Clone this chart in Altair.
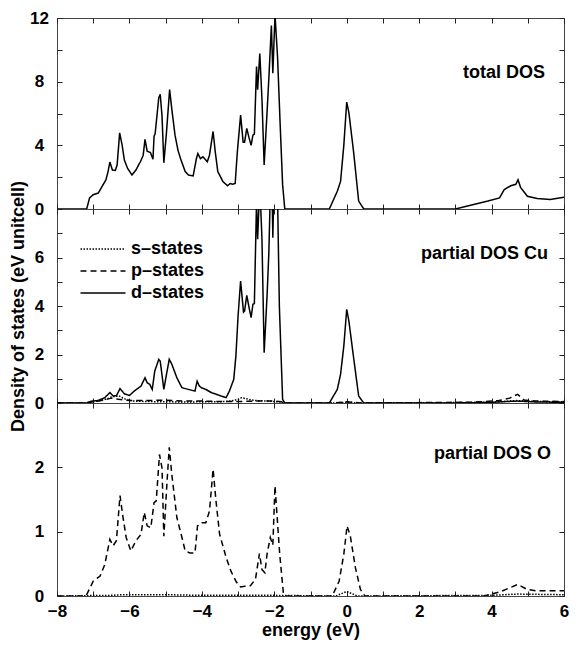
import altair as alt
import pandas as pd

FONT = "Liberation Sans"

# ---------------- data ----------------
tot_E = [-8.0, -7.18, -7.10, -7.0, -6.86, -6.77, -6.65, -6.59, -6.54, -6.47, -6.39, -6.34,
         -6.27, -6.20, -6.14, -6.05, -5.93, -5.82, -5.75, -5.69, -5.62, -5.57, -5.51, -5.42,
         -5.35, -5.32, -5.29, -5.19, -5.15, -5.10, -5.05, -4.98, -4.89, -4.83, -4.74, -4.66,
         -4.59, -4.46, -4.37, -4.24, -4.15, -4.11, -4.04, -3.97, -3.85, -3.79, -3.69, -3.63,
         -3.56, -3.42, -3.29, -3.22, -3.15, -3.08, -3.02, -2.93, -2.86, -2.82, -2.76, -2.70,
         -2.64, -2.59, -2.55, -2.49, -2.46, -2.40, -2.34, -2.28, -2.20, -2.15, -2.08, -2.04,
         -1.98, -1.91, -1.84, -1.77, -1.71, -0.48, -0.26, -0.17, -0.08, 0.0, 0.06, 0.19,
         0.33, 0.47, 3.0, 3.45, 3.90, 4.22, 4.35, 4.53, 4.67, 4.73, 4.80, 4.99, 5.26, 5.62, 6.0]
tot_dos = [0, 0, 0.7, 0.9, 1.0, 1.36, 1.83, 2.35, 2.95, 2.45, 2.43, 2.76,
           4.78, 4.0, 3.07, 2.55, 2.14, 2.45, 2.76, 3.0, 3.38, 4.37, 3.63, 3.55,
           3.13, 4.58, 4.72, 6.99, 7.2, 5.85, 2.9, 4.72, 7.5, 6.27, 4.62, 3.7,
           3.17, 2.35, 2.14, 2.08, 3.17, 3.48, 3.17, 3.28, 2.97, 3.38, 4.87, 3.59,
           2.35, 1.73, 1.46, 1.6, 1.55, 1.6, 3.59, 5.9, 4.2, 4.2, 5.07, 4.5,
           4.0, 4.64, 4.7, 8.95, 7.5, 9.77, 6.88, 2.76, 6.06, 8.22, 11.52, 8.53,
           12.2, 9.56, 5.44, 1.53, 0, 0, 1.11, 1.73, 4.0, 6.72, 6.06, 3.59,
           0.5, 0, 0, 0.25, 0.5, 0.7, 1.22, 1.46, 1.55, 1.84, 1.36, 0.8, 0.66, 0.6, 0.74]

cu_d_E = [-8.0, -7.18, -7.04, -6.87, -6.68, -6.54, -6.45, -6.36, -6.26, -6.14, -6.0, -5.86,
          -5.68, -5.57, -5.51, -5.44, -5.37, -5.30, -5.19, -5.15, -5.05, -4.96, -4.90, -4.83,
          -4.69, -4.55, -4.37, -4.19, -4.13, -4.07, -4.01, -3.89, -3.74, -3.47, -3.33, -3.24,
          -3.12, -3.06, -3.0, -2.93, -2.85, -2.82, -2.76, -2.70, -2.64, -2.59, -2.55, -2.49,
          -2.46, -2.40, -2.34, -2.28, -2.20, -2.15, -2.08, -2.04, -1.98, -1.91, -1.86, -1.77,
          -1.71, -0.48, -0.26, -0.17, -0.08, 0.0, 0.06, 0.19, 0.33, 0.47, 3.0, 4.0, 4.7, 5.3, 6.0]
cu_d = [0, 0, 0.08, 0.1, 0.22, 0.43, 0.29, 0.3, 0.59, 0.38, 0.31, 0.5,
        0.7, 1.04, 0.84, 0.77, 0.56, 1.32, 1.80, 1.73, 0.56, 1.32, 1.8, 1.6,
        1.04, 0.63, 0.56, 0.49, 0.9, 0.70, 0.63, 0.56, 0.43, 0.29, 0.22, 0.49,
        0.97, 1.94, 3.59, 5.03, 3.75, 3.8, 4.44, 3.96, 3.52, 4.07, 4.1, 8.3,
        6.75, 9.0, 6.75, 2.07, 4.41, 6.2, 10.5, 6.82, 11.2, 8.5, 4.0, 0.15,
        0, 0, 0.56, 1.18, 2.35, 3.86, 3.38, 1.87, 0.29, 0, 0, 0.03, 0.08, 0.04, 0.03]

cu_s_E = [-8, -7.2, -7.0, -6.8, -6.6, -6.5, -6.3, -6.1, -5.9, -5.5, -5.0, -4.5, -4.0, -3.5,
          -3.2, -3.0, -2.9, -2.7, -2.5, -2.2, -2.0, -1.8, -1.7, -0.4, 0.0, 0.4, 3.5, 4.2, 4.7,
          5.2, 6.0]
cu_s = [0, 0, 0.05, 0.1, 0.18, 0.25, 0.3, 0.15, 0.08, 0.06, 0.05, 0.04, 0.05, 0.05,
        0.08, 0.15, 0.22, 0.15, 0.1, 0.08, 0.06, 0.04, 0, 0, 0.03, 0, 0.02, 0.05, 0.1,
        0.06, 0.05]

cu_p_E = [-8, -7.2, -7.0, -6.7, -6.5, -6.3, -6.0, -5.5, -5.0, -4.5, -4.0, -3.5, -3.0, -2.5,
          -2.0, -1.8, -1.7, -0.4, 0.0, 0.4, 3.5, 4.2, 4.5, 4.72, 4.9, 5.2, 6.0]
cu_p = [0, 0, 0.05, 0.12, 0.2, 0.15, 0.1, 0.1, 0.12, 0.08, 0.08, 0.06, 0.06, 0.08,
        0.08, 0.05, 0, 0, 0.05, 0, 0.03, 0.1, 0.2, 0.36, 0.12, 0.08, 0.06]

o_p_E = [-8, -7.2, -7.13, -7.0, -6.81, -6.68, -6.54, -6.45, -6.36, -6.26, -6.19, -6.09,
         -5.96, -5.82, -5.68, -5.59, -5.51, -5.41, -5.32, -5.26, -5.17, -5.10, -5.05, -4.96,
         -4.90, -4.83, -4.69, -4.55, -4.46, -4.33, -4.19, -4.12, -4.01, -3.89, -3.79, -3.69,
         -3.61, -3.51, -3.33, -3.20, -3.05, -2.93, -2.82, -2.66, -2.52, -2.41, -2.34, -2.26,
         -2.20, -2.11, -2.04, -1.98, -1.94, -1.85, -1.75, -1.7, -0.40, -0.21, -0.08, 0.01,
         0.10, 0.24, 0.38, 0.5, 3.8, 4.26, 4.72, 4.99, 5.26, 6.0]
o_p = [0, 0, 0.08, 0.23, 0.31, 0.49, 0.88, 0.78, 0.86, 1.56, 1.27, 0.91,
       0.70, 0.86, 0.96, 1.30, 1.09, 1.06, 1.45, 1.48, 2.2, 1.99, 0.93, 1.79,
       2.31, 1.89, 1.22, 0.91, 0.7, 0.67, 0.67, 1.09, 1.14, 1.14, 1.32, 1.97,
       1.48, 0.96, 0.6, 0.39, 0.22, 0.14, 0.15, 0.16, 0.26, 0.66, 0.41, 0.36,
       0.65, 0.91, 0.79, 1.71, 1.38, 0.65, 0.05, 0, 0, 0.23, 0.65, 1.09,
       0.93, 0.44, 0.10, 0, 0, 0.07, 0.18, 0.1, 0.08, 0.08]

o_s_E = [-8, -6.5, -6.2, -5.0, -4.0, -2.0, -0.3, 0.0, 0.3, 4.0, 4.7, 6.0]
o_s = [0, 0.01, 0.02, 0.02, 0.01, 0.01, 0, 0.07, 0, 0.01, 0.03, 0.02]

x_ticks = list(range(-8, 7))
y1_ticks = list(range(0, 13, 2))
y2_ticks = list(range(0, 9))
y3_ticks = [0, 0.5, 1, 1.5, 2, 2.5, 3]
state_names = ["s\u2013states", "p\u2013states", "d\u2013states"]
panel_titles = ["total DOS", "partial DOS Cu", "partial DOS O"]

# ---------------- layout ----------------
W = 507
H1, H2, H3 = 191, 194, 193
LW = 1.5


def ax(orient, values, labels=True, label_expr=None, **kw):
    args = dict(orient=orient, values=values, domain=False, grid=False, ticks=True,
                tickSize=5, tickColor="#222222", tickWidth=1, offset=-5, labels=labels,
                labelOverlap=False, labelFlush=False, format="d", labelFont=FONT,
                labelFontSize=17, labelFontWeight="bold", labelColor="black", title=None,
                minExtent=0)
    if label_expr:
        args["labelExpr"] = label_expr
    args.update(kw)
    return alt.Axis(**args)


def xenc(axis):
    return alt.X("E:Q", scale=alt.Scale(domain=[-8, 6], nice=False, zero=False), axis=axis)


def yenc(dom, axis):
    return alt.Y("v:Q", scale=alt.Scale(domain=dom, nice=False, zero=False), axis=axis)


def mirror(df, dom, yticks):
    return alt.Chart(df).mark_point(opacity=0).encode(
        x=xenc(ax("top", x_ticks, labels=False)),
        y=yenc(dom, ax("right", yticks, labels=False)),
    )


def label_layer(text, x, y):
    return alt.Chart(pd.DataFrame({"t": [text]})).mark_text(
        align="right", baseline="middle", font=FONT, fontSize=18, fontWeight="bold",
        color="black").encode(x=alt.value(x), y=alt.value(y), text="t:N")


# panel 1: total DOS
df1 = pd.DataFrame({"E": tot_E, "v": tot_dos})
line1 = alt.Chart(df1).mark_line(color="black", strokeWidth=LW, clip=True).encode(
    x=xenc(ax("bottom", x_ticks, labels=False)),
    y=yenc([0, 12], ax("left", y1_ticks,
                       label_expr="datum.value % 4 === 0 ? datum.label : ''",
                       labelAlign="center", labelPadding=18)),
)
p1 = alt.layer(line1, mirror(df1, [0, 12], y1_ticks),
               label_layer(panel_titles[0], 488, 55)).resolve_axis(
    x="independent", y="independent").properties(width=W, height=H1)

# panel 2: partial DOS Cu
df2 = pd.concat([
    pd.DataFrame({"E": cu_s_E, "v": cu_s, "state": state_names[0]}),
    pd.DataFrame({"E": cu_p_E, "v": cu_p, "state": state_names[1]}),
    pd.DataFrame({"E": cu_d_E, "v": cu_d, "state": state_names[2]}),
], ignore_index=True)
line2 = alt.Chart(df2).mark_line(color="black", strokeWidth=LW, clip=True).encode(
    x=xenc(ax("bottom", x_ticks, labels=False)),
    y=yenc([0, 8], ax("left", y2_ticks,
                      label_expr="datum.value % 2 === 0 && datum.value < 8 ? datum.label : ''",
                      labelAlign="center", labelPadding=18,
                      title="Density of states (eV unitcell)", titleFont=FONT,
                      titleFontSize=18, titleFontWeight="bold", titleColor="black",
                      titleAngle=270, titleX=-44, titleY=H2 / 2, titleAlign="center",
                      titleBaseline="middle")),
    strokeDash=alt.StrokeDash("state:N",
                              scale=alt.Scale(domain=state_names,
                                              range=[[1.5, 1.5], [6, 4], [1, 0]]),
                              legend=alt.Legend(orient="none", legendX=34, legendY=28,
                                                title=None, symbolType="M-2,0H2",
                                                symbolSize=506, symbolStrokeWidth=1.5,
                                                symbolStrokeColor="black", labelFont=FONT,
                                                labelFontSize=18, labelFontWeight="bold",
                                                labelColor="black", labelOffset=16,
                                                rowPadding=1, padding=0)),
    detail="state:N",
)
p2 = alt.layer(line2, mirror(df2, [0, 8], y2_ticks),
               label_layer(panel_titles[1], 491, 45)).resolve_axis(
    x="independent", y="independent").properties(width=W, height=H2)

# panel 3: partial DOS O
df3s = pd.DataFrame({"E": o_s_E, "v": o_s})
df3p = pd.DataFrame({"E": o_p_E, "v": o_p})
line3p = alt.Chart(df3p).mark_line(color="black", strokeWidth=LW, clip=True,
                                   strokeDash=[6, 4]).encode(
    x=xenc(ax("bottom", x_ticks,
              label_expr="datum.value % 2 === 0 ? datum.label : ''", labelPadding=7,
              title="energy (eV)", titleFont=FONT, titleFontSize=18,
              titleFontWeight="bold", titleColor="black", titlePadding=2)),
    y=yenc([0, 3], ax("left", y3_ticks,
                      label_expr="datum.value % 1 === 0 && datum.value < 3 ? datum.label : ''",
                      labelAlign="center", labelPadding=18)),
)
line3s = alt.Chart(df3s).mark_line(color="black", strokeWidth=LW, clip=True,
                                   strokeDash=[1.5, 1.5]).encode(
    x=xenc(None), y=yenc([0, 3], None))
p3 = alt.layer(line3p, line3s, mirror(df3p, [0, 3], y3_ticks),
               label_layer(panel_titles[2], 494, 51)).resolve_axis(
    x="independent", y="independent").properties(width=W, height=H3)

chart = alt.vconcat(p1, p2, p3, spacing=0, bounds="flush").resolve_legend(
    strokeDash="independent").properties(
    padding={"left": 0, "top": 0, "right": 0, "bottom": 0},
    background="white",
).configure_view(stroke="#444444", strokeWidth=1)

chart.save("out.html", embed_options={"renderer": "svg", "actions": False})
